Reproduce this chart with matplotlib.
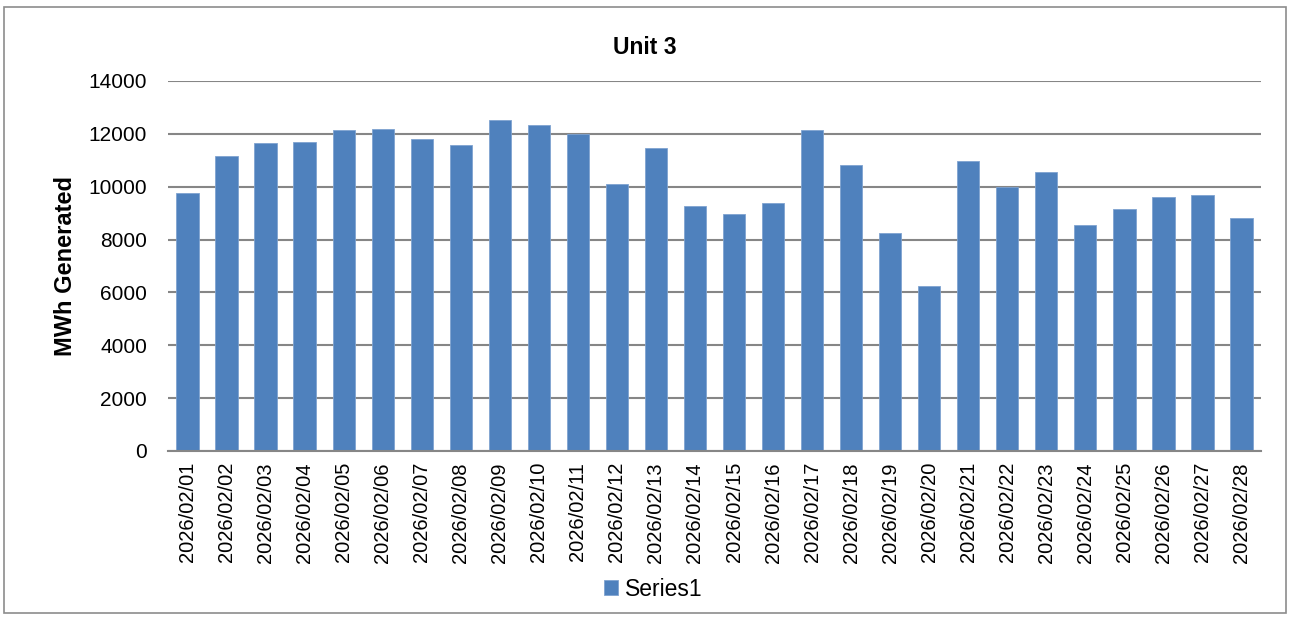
import matplotlib
matplotlib.use("Agg")
import matplotlib.pyplot as plt
from matplotlib.patches import Rectangle

dates = [f"2026/02/{d:02d}" for d in range(1, 29)]
values = [9780, 11170, 11650, 11700, 12150, 12180, 11820, 11560, 12540, 12350,
          11980, 10120, 11480, 9280, 8970, 9390, 12160, 10830, 8250, 6250,
          10990, 9980, 10560, 8560, 9150, 9620, 9690, 8830]
yticks = [0, 2000, 4000, 6000, 8000, 10000, 12000, 14000]
title = "Unit 3"
ylabel = "MWh Generated"
series_name = "Series1"

plt.rcParams['font.family'] = ['Liberation Sans', 'DejaVu Sans']

W, H = 1290, 617
fig = plt.figure(figsize=(W / 100, H / 100), dpi=100)
ax = fig.add_axes([168 / W, 1 - 451 / H, (1261 - 168) / W, (451 - 81) / H])

x = list(range(len(dates)))
bars = ax.bar(x, values, width=0.57, color='#4F81BD', edgecolor='#7FA3D0',
              linewidth=0.6, label=series_name, zorder=3)

ax.set_xlim(-0.5, len(dates) - 0.5)
ax.set_ylim(0, 14000)
ax.set_yticks(yticks)
ax.set_yticklabels([str(t) for t in yticks], fontsize=15)
ax.set_xticks(x)
ax.set_xticklabels(dates, rotation=90, fontsize=14.5)
ax.tick_params(axis='both', length=0)
ax.tick_params(axis='y', pad=15)
ax.tick_params(axis='x', pad=8)

ax.grid(axis='y', color='#868686', linewidth=1.5, zorder=0)
for s in ['top', 'right', 'left']:
    ax.spines[s].set_visible(False)
ax.spines['bottom'].set_color('#868686')
ax.spines['bottom'].set_linewidth(1.5)
ax.spines['bottom'].set_zorder(4)

fig.text(0.5, 1 - 47 / H, title, fontsize=16.5, fontweight='bold',
         ha='center', va='center')
fig.text(65 / W, 1 - 266 / H, ylabel, fontsize=17, fontweight='bold',
         rotation=90, ha='center', va='center')

leg = fig.legend(handles=[bars], labels=[series_name], loc='center',
                 bbox_to_anchor=(653 / W, 1 - 589 / H), frameon=False, fontsize=16.5,
                 handlelength=0.6, handleheight=0.6, handletextpad=0.3)

fig.patches.append(Rectangle((0.003, 0.006), 0.994, 0.982, transform=fig.transFigure,
                             fill=False, edgecolor='#8C8C8C', linewidth=1.2))

fig.savefig("out.png", dpi=100)
